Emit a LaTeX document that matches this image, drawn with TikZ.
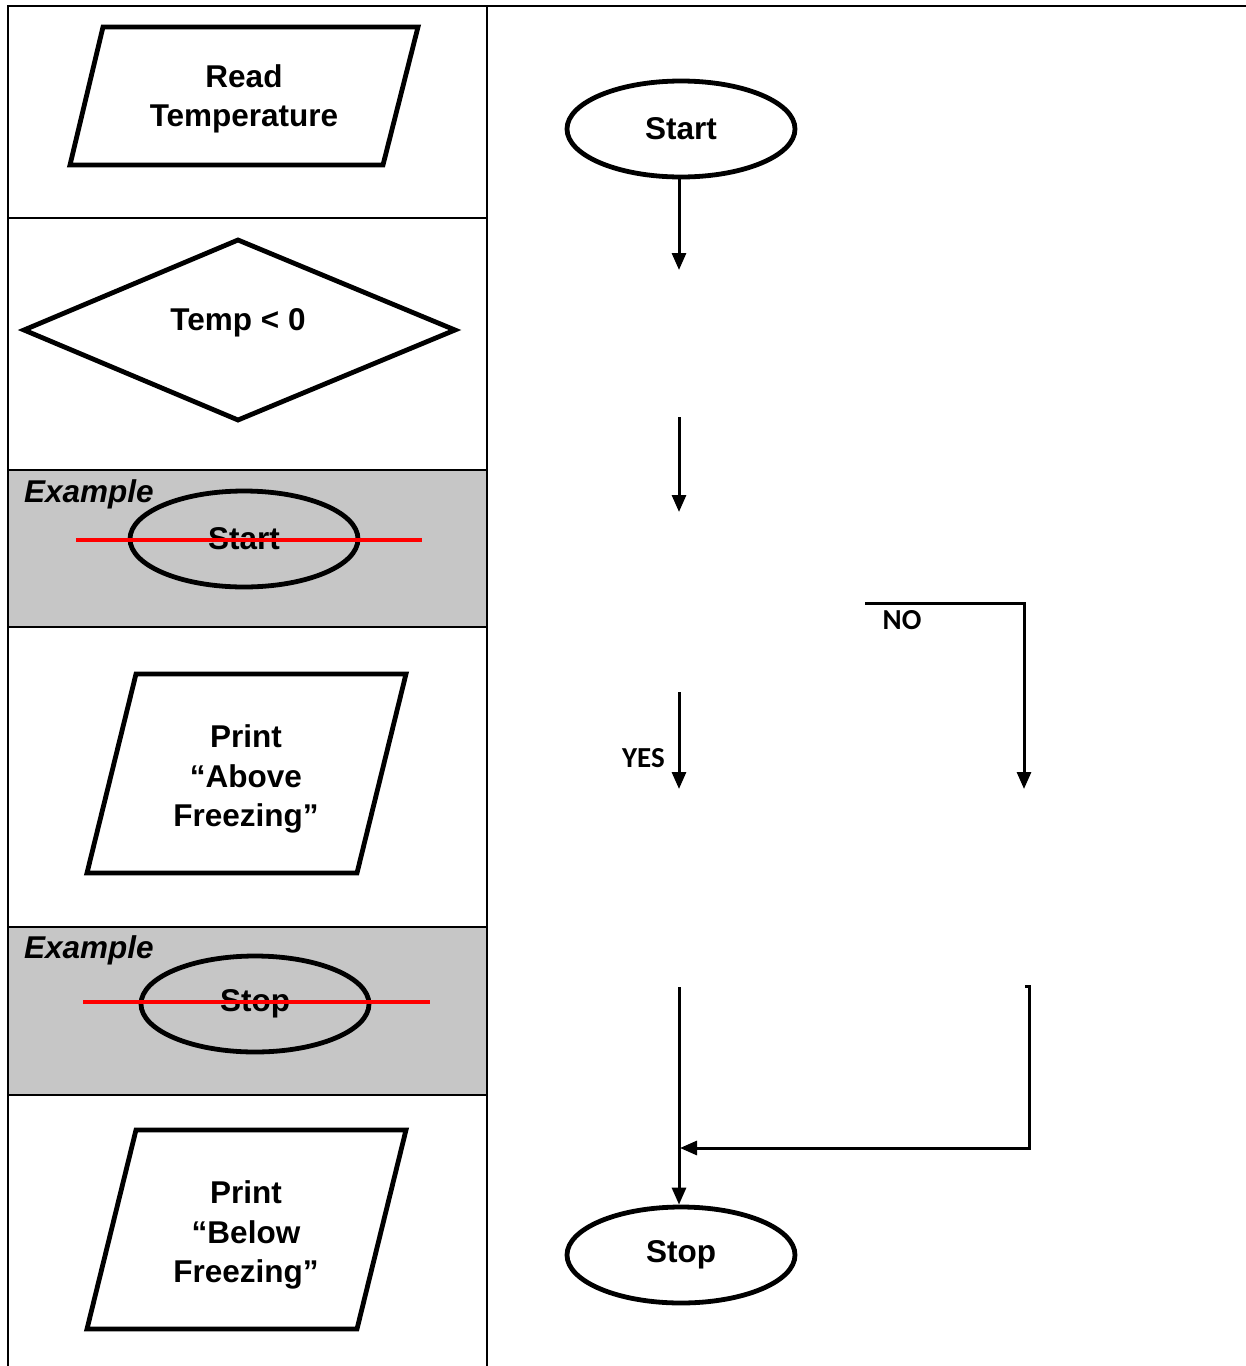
\documentclass[tikz,border=0pt]{standalone}
\usepackage{fontspec}
\setmainfont{Liberation Sans}
\newfontfamily\calib{Carlito}
\usetikzlibrary{shapes.geometric,arrows.meta}
\definecolor{rowgray}{HTML}{C6C6C6}
\tikzset{
  grid/.style={line width=2.4pt},
  shapeline/.style={draw, line width=4.8pt, line join=miter},
  txt/.style={font=\fontsize{31.5}{39.5}\selectfont\bfseries, align=center, inner sep=0pt},
  term/.style={ellipse, draw, line width=4.8pt, minimum width=228pt, minimum height=96pt, inner sep=0pt, font=\fontsize{31.5}{36}\selectfont\bfseries},
  ex/.style={font=\fontsize{31.5}{36}\selectfont\bfseries\itshape, inner sep=0pt, anchor=west},
  strike/.style={draw=red, line width=4.5pt},
  arr/.style={line width=3pt, -{Triangle[width=14pt,length=17pt]}},
  lab/.style={font=\calib\fontsize{29}{33}\selectfont\bfseries, inner sep=0pt}
}
\begin{document}
\begin{tikzpicture}[x=1pt,y=-1pt]
\useasboundingbox (0,0) rectangle (1246,1366);
% gray example rows
\fill[rowgray] (8,470) rectangle (487,627);
\fill[rowgray] (8,927) rectangle (487,1095);
% table grid
\draw[grid] (7,6) -- (1246,6);
\draw[grid] (8,6) -- (8,1366);
\draw[grid] (487,6) -- (487,1366);
\foreach \yy in {218,470,627,927,1095} \draw[grid] (8,\yy) -- (487,\yy);

% left column symbols
\draw[shapeline] (103,27) -- (418,27) -- (383,165) -- (70,165) -- cycle;
\node[txt] (read) at (244,99) {Read\\Temperature};

\draw[shapeline] (24,330) -- (238,240) -- (455,330) -- (238,420) -- cycle;
\node[txt] (cond) at (238,323) {Temp < 0};

\node[ex] (ex1) at (24,494) {Example};
\node[term] (exstart) at (244,539) {Start};
\coordinate (s1a) at (76,540);
\coordinate (s1b) at (422,540);
\draw[strike] (s1a) -- (s1b);

\draw[shapeline] (136,674) -- (406,674) -- (357,873) -- (87,873) -- cycle;
\node[txt] (above) at (246,779) {Print\\“Above\\Freezing”};

\node[ex] (ex2) at (24,950) {Example};
\node[term] (exstop) at (255,1004) {Stop};
\coordinate (s2a) at (83,1002);
\coordinate (s2b) at (430,1002);
\draw[strike] (s2a) -- (s2b);

\draw[shapeline] (136,1130) -- (406,1130) -- (357,1329) -- (87,1329) -- cycle;
\node[txt] (below) at (246,1235) {Print\\“Below\\Freezing”};

% right column flowchart
\node[term] (start) at (681,129) {Start};
\node[term] (stop) at (681,1255) {Stop};

\coordinate (a1e) at (679,270);
\draw[arr] (start.south -| a1e) -- (a1e);

\coordinate (a2s) at (679,417);
\coordinate (a2e) at (679,512);
\draw[arr] (a2s) -- (a2e);

\coordinate (ys) at (679,692);
\coordinate (ye) at (679,789);
\draw[arr] (ys) -- (ye);
\node[lab, anchor=east] (yes) at (665,758) {YES};

\coordinate (ns) at (865,603);
\coordinate (nc) at (1024,603);
\coordinate (ne) at (1024,789);
\draw[arr] (ns) -- (nc) -- (ne);
\node[lab] (no) at (902,620) {NO};

\coordinate (ls) at (679,987);
\draw[arr] (ls) -- (stop.north -| ls);

\coordinate (rt) at (1025,986);
\coordinate (rs) at (1029,986);
\coordinate (rc) at (1029,1148);
\coordinate (rj) at (680,1148);
\draw[arr] (rt) -- (rs) -- (rc) -- (rj);
\end{tikzpicture}
\end{document}
